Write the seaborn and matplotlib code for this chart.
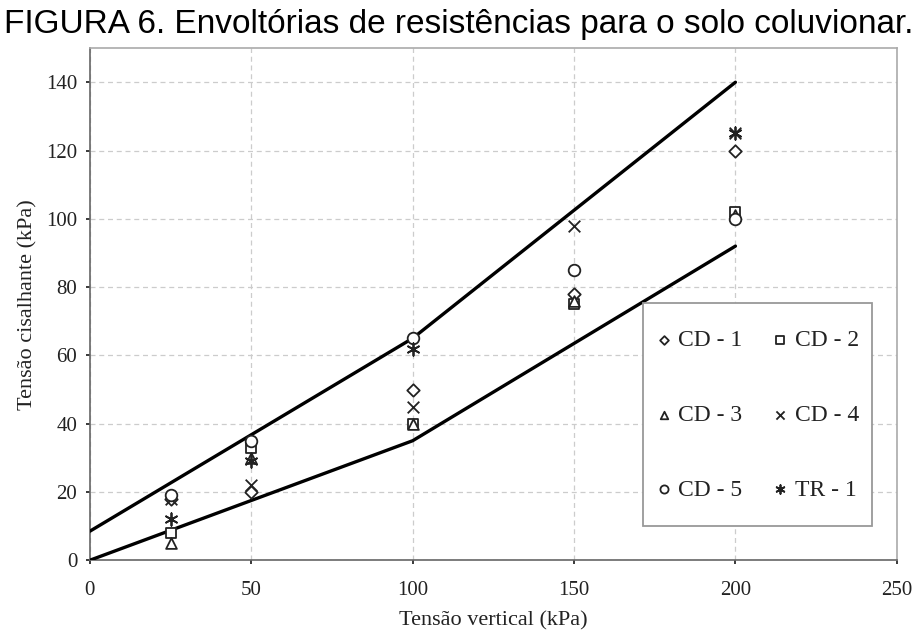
import matplotlib
matplotlib.use("Agg")
import matplotlib.pyplot as plt
import matplotlib.patches as mpatches
import seaborn as sns
import pandas as pd
from matplotlib.ticker import MultipleLocator

# Ensaios de cisalhamento direto (CD) e triaxial (TR)
series = ["CD - 1", "CD - 2", "CD - 3", "CD - 4", "CD - 5", "TR - 1"]
sigma_cd = [25, 50, 100, 150, 200]
sigma_tr = [25, 50, 100, 200]
tau_cd1 = [18, 20, 50, 78, 120]
tau_cd2 = [8, 33, 40, 75, 102]
tau_cd3 = [5, 30, 40, 76, 101]
tau_cd4 = [18, 22, 45, 98, 125]
tau_cd5 = [19, 35, 65, 85, 100]
tau_tr1 = [12, 29, 62, 125]

# Envoltórias superior e inferior
env_sigma = [0, 100, 200]
env_sup = [8.5, 65, 140]
env_inf = [0, 35, 92]

markers = {"CD - 1": "D", "CD - 2": "s", "CD - 3": "^",
           "CD - 4": "x", "CD - 5": "o", "TR - 1": (6, 2, 0)}
sizes = {"CD - 1": 40, "CD - 2": 60, "CD - 3": 60,
         "CD - 4": 70, "CD - 5": 70, "TR - 1": 80}

rows = []
for name, xs, ys in zip(series,
                        [sigma_cd] * 5 + [sigma_tr],
                        [tau_cd1, tau_cd2, tau_cd3, tau_cd4, tau_cd5, tau_tr1]):
    for x, y in zip(xs, ys):
        rows.append({"sigma": x, "tau": y, "ensaio": name})
pontos = pd.DataFrame(rows)

env = pd.DataFrame({
    "sigma": env_sigma * 2,
    "tau": env_sup + env_inf,
    "curva": ["sup"] * 3 + ["inf"] * 3,
})

sns.set_theme(style="white")
plt.rcParams["font.family"] = ["Liberation Serif", "DejaVu Serif"]

W, H = 917, 641
fig = plt.figure(figsize=(W / 100, H / 100), dpi=100)
ax = fig.add_axes([0.098, 0.126, 0.880, 0.799])

sns.lineplot(data=env, x="sigma", y="tau", units="curva", estimator=None,
             color="black", linewidth=2.4, ax=ax, legend=False, zorder=3)

for name in series:
    sub = pontos[pontos["ensaio"] == name]
    m = markers[name]
    kw = dict(marker=m, s=sizes[name], linewidth=1.3, zorder=4, label=name, ax=ax)
    if m in ("x", (6, 2, 0)):
        kw.update(color="#222222")
    else:
        kw.update(facecolor="white", edgecolor="#222222")
    sns.scatterplot(data=sub, x="sigma", y="tau", **kw)

ax.set_xlim(0, 250)
ax.set_ylim(0, 150)
ax.xaxis.set_major_locator(MultipleLocator(50))
ax.yaxis.set_major_locator(MultipleLocator(20))
ax.grid(True, color="#cccccc", linestyle=(0, (4, 3)), linewidth=0.9)
ax.set_axisbelow(True)

for side in ["left", "bottom"]:
    ax.spines[side].set_color("#666666")
    ax.spines[side].set_linewidth(1.2)
for side in ["top", "right"]:
    ax.spines[side].set_color("#aaaaaa")
    ax.spines[side].set_linewidth(1.2)

ax.tick_params(axis="both", labelsize=15, colors="#222222", length=3,
               direction="out", bottom=True, left=True)
ax.tick_params(axis="x", pad=12)
ax.tick_params(axis="y", pad=6)
ax.set_xlabel("Tensão vertical (kPa)", fontsize=16, color="#222222", labelpad=8)
ax.set_ylabel("Tensão cisalhante (kPa)", fontsize=16, color="#222222", labelpad=6)

# Legenda preenchida por linhas: CD-1 CD-2 / CD-3 CD-4 / CD-5 TR-1
handles, labels = ax.get_legend_handles_labels()
lookup = dict(zip(labels, handles))
order = ["CD - 1", "CD - 3", "CD - 5", "CD - 2", "CD - 4", "TR - 1"]
leg = ax.legend([lookup[k] for k in order], order,
                loc="upper left", bbox_to_anchor=(643 / W, 1 - 318 / H),
                bbox_transform=fig.transFigure, ncol=2,
                frameon=False, fontsize=17, labelspacing=2.25,
                handletextpad=0.2, columnspacing=1.2, borderpad=0.0,
                handlelength=0.8, markerscale=0.7)
for t in leg.get_texts():
    t.set_color("#222222")

# Moldura da legenda com folgas horizontais e verticais próprias
fig.canvas.draw()
bb = leg.get_window_extent()
pad_l, pad_r, pad_t, pad_b = 12, 13, 27, 25
frame = mpatches.Rectangle(
    ((bb.x0 - pad_l) / W, (bb.y0 - pad_b) / H),
    (bb.width + pad_l + pad_r) / W, (bb.height + pad_t + pad_b) / H,
    transform=fig.transFigure, facecolor="white", edgecolor="#999999",
    linewidth=1.3, zorder=5)
ax.add_artist(frame)
leg.set_zorder(6)

fig.text(0.5, 0.962, "FIGURA 6. Envoltórias de resistências para o solo coluvionar.",
         ha="center", va="center", fontsize=24,
         family=["Liberation Sans", "DejaVu Sans"], color="black")

fig.savefig("out.png", dpi=100, facecolor="white")
